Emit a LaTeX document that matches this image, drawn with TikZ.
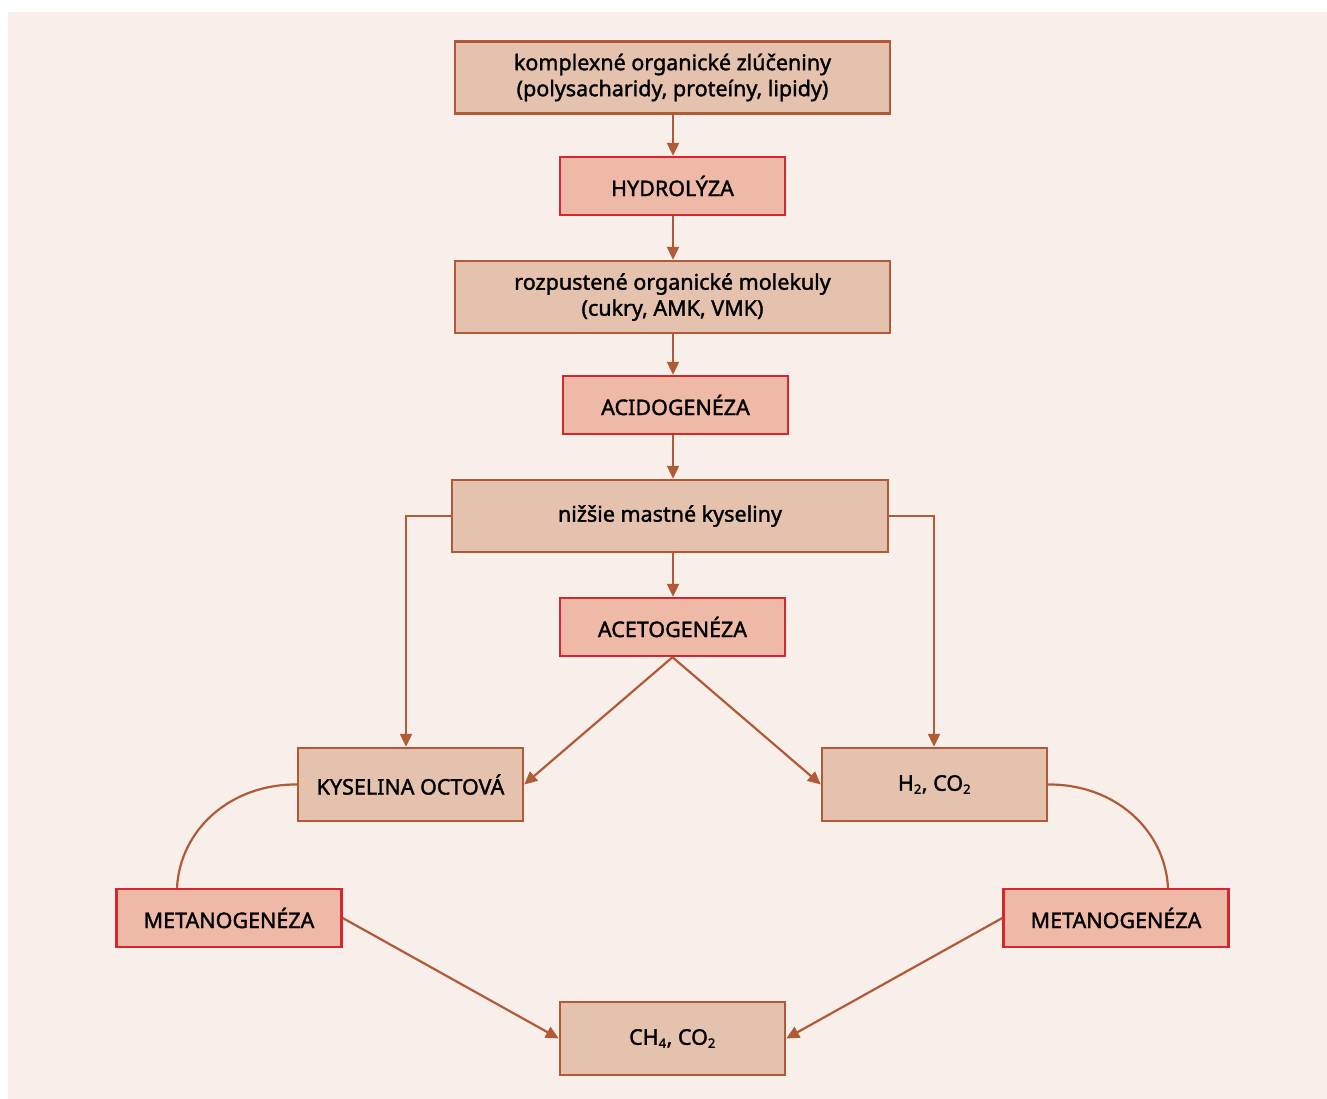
\documentclass[tikz,border=0pt]{standalone}
\usepackage{fontspec}
\setmainfont{Noto Sans}[FakeBold=1.6,AutoFakeBold=1.6]
\usetikzlibrary{arrows.meta}
\definecolor{panelbg}{HTML}{F8EFEA}
\definecolor{statefill}{HTML}{E4C2AE}
\definecolor{brownline}{HTML}{B25A37}
\definecolor{procfill}{HTML}{EFB9A7}
\definecolor{procline}{HTML}{D6262E}
\tikzset{
  statebox/.style={draw=brownline, fill=statefill, line width=2.4pt, minimum height=72pt, align=center, font=\fontsize{21.5}{26}\selectfont\bfseries, inner sep=0pt},
  procbox/.style={draw=procline, fill=procfill, line width=2.4pt, minimum width=225pt, minimum height=58pt, align=center, font=\fontsize{21.5}{26}\selectfont\bfseries, inner sep=0pt},
  flow/.style={draw=brownline, line width=2.2pt, -{Triangle[length=13pt,width=12pt]}},
  link/.style={draw=brownline, line width=2.2pt},
}
\newcommand{\chemsub}[1]{\textsubscript{\fontsize{13}{13}\selectfont#1}}
\begin{document}
\begin{tikzpicture}[x=1pt,y=-1pt]
\useasboundingbox (0,0) rectangle (1327,1099);
\fill[panelbg] (8,12) rectangle (1327,1099);

\node[statebox, minimum width=435pt] (org) at (672.5,77.5) {komplexné organické zlúčeniny\\(polysacharidy, proteíny, lipidy)};
\node[procbox] (hyd) at (672.5,186) {HYDROLÝZA};
\node[statebox, minimum width=435pt] (mol) at (672.5,297) {rozpustené organické molekuly\\(cukry, AMK, VMK)};
\node[procbox] (aci) at (675.5,405) {ACIDOGENÉZA};
\node[statebox, minimum width=436pt] (mk) at (670,516) {nižšie mastné kyseliny};
\node[procbox] (ace) at (672.5,627) {ACETOGENÉZA};
\node[statebox, minimum width=225pt, minimum height=73pt] (oct) at (410.5,784.5) {KYSELINA OCTOVÁ};
\node[statebox, minimum width=225pt, minimum height=73pt] (hco) at (934.5,784.5) {H\chemsub{2}, CO\chemsub{2}};
\node[procbox] (metl) at (229,918) {METANOGENÉZA};
\node[procbox] (metr) at (1116,918) {METANOGENÉZA};
\node[statebox, minimum width=225pt, minimum height=73pt] (ch) at (672.5,1038.5) {CH\chemsub{4}, CO\chemsub{2}};

\draw[flow] (org.south -| 673,0) -- (hyd.north -| 673,0);
\draw[flow] (hyd.south -| 673,0) -- (mol.north -| 673,0);
\draw[flow] (mol.south -| 673,0) -- (aci.north -| 673,0);
\draw[flow] (aci.south -| 673,0) -- (mk.north -| 673,0);
\draw[flow] (mk.south -| 673,0) -- (ace.north -| 673,0);

\draw[flow] (mk.west) -| (oct.north -| 406,0);
\draw[flow] (mk.east) -| (hco.north -| 934,0);

\draw[flow] (ace.south) -- (oct.east);
\draw[flow] (ace.south) -- (hco.west);

\draw[link] (oct.west) .. controls (230,784) and (180,830) .. (metl.north -| 177,0);
\draw[link] (hco.east) .. controls (1115,784) and (1165,830) .. (metr.north -| 1168,0);

\draw[flow] (metl.east) -- (ch.west);
\draw[flow] (metr.west) -- (ch.east);
\end{tikzpicture}
\end{document}
